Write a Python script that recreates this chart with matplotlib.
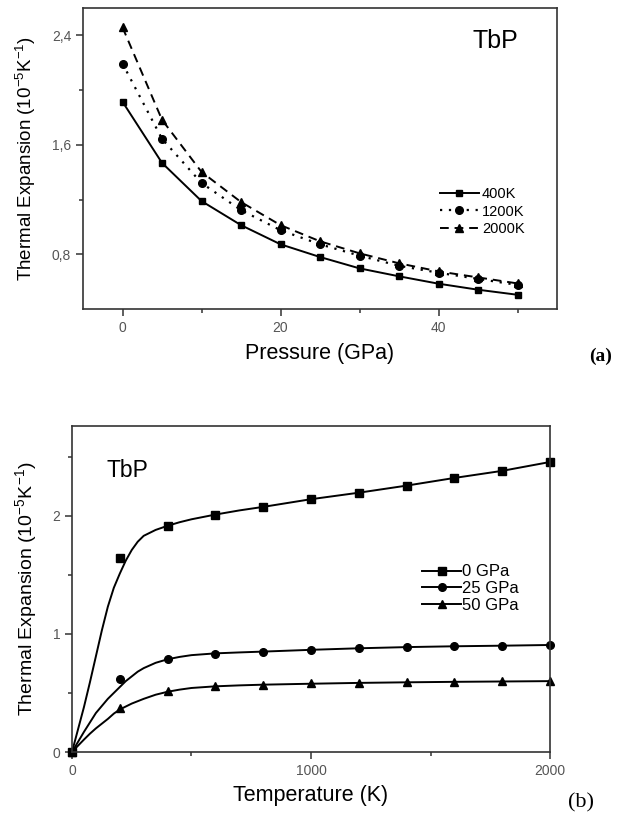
import matplotlib.pyplot as plt
from matplotlib.ticker import FixedLocator

plt.rcParams['font.family'] = ['Liberation Sans', 'DejaVu Sans']

# (a) thermal expansion vs pressure
pressure = [0, 5, 10, 15, 20, 25, 30, 35, 40, 45, 50]
alpha_400 = [1.915, 1.468, 1.189, 1.013, 0.873, 0.780, 0.697, 0.639, 0.585, 0.541, 0.504]
alpha_1200 = [2.194, 1.644, 1.321, 1.123, 0.976, 0.873, 0.790, 0.716, 0.665, 0.620, 0.576]
alpha_2000 = [2.459, 1.783, 1.402, 1.182, 1.013, 0.895, 0.807, 0.734, 0.675, 0.631, 0.587]
labels_a = ['400K', '1200K', '2000K']
yticks_a = [0.8, 1.6, 2.4]
yticklabels_a = ['0,8', '1,6', '2,4']

# (b) thermal expansion vs temperature: computed points and fitted curves
temperature = [0, 200, 400, 600, 800, 1000, 1200, 1400, 1600, 1800, 2000]
alpha_0gpa = [0.0, 1.644, 1.915, 2.008, 2.076, 2.144, 2.195, 2.254, 2.322, 2.381, 2.458]
alpha_25gpa = [0.0, 0.616, 0.786, 0.828, 0.847, 0.864, 0.881, 0.890, 0.895, 0.900, 0.906]
alpha_50gpa = [0.0, 0.370, 0.515, 0.560, 0.570, 0.580, 0.583, 0.590, 0.594, 0.598, 0.600]
t_fit = [0, 25, 50, 75, 100, 125, 150, 175, 200, 225, 250, 275, 300, 350, 400, 450, 500,
         600, 700, 800, 1000, 1200, 1400, 1600, 1800, 2000]
fit_0gpa = [0, 0.19, 0.38, 0.59, 0.81, 1.03, 1.23, 1.39, 1.51, 1.62, 1.71, 1.78, 1.83, 1.88,
            1.915, 1.945, 1.97, 2.01, 2.045, 2.075, 2.14, 2.195, 2.255, 2.32, 2.38, 2.455]
fit_25gpa = [0, 0.085, 0.17, 0.25, 0.33, 0.39, 0.45, 0.50, 0.55, 0.60, 0.64, 0.68, 0.71, 0.755,
             0.785, 0.805, 0.82, 0.835, 0.843, 0.85, 0.865, 0.878, 0.888, 0.895, 0.90, 0.906]
fit_50gpa = [0, 0.053, 0.105, 0.155, 0.20, 0.24, 0.28, 0.325, 0.36, 0.385, 0.41, 0.43, 0.45, 0.485,
             0.51, 0.528, 0.542, 0.556, 0.564, 0.57, 0.578, 0.585, 0.59, 0.594, 0.597, 0.60]
labels_b = ['0 GPa', '25 GPa', '50 GPa']

frame = '#333333'
tickcol = '#555555'


def style_axes(ax):
    for s in ax.spines.values():
        s.set_color(frame)
        s.set_linewidth(1.2)
    ax.tick_params(which='both', direction='out', colors=frame, labelcolor=tickcol,
                   top=False, right=False, labelsize=10)
    ax.tick_params(which='major', length=5, width=1.1)
    ax.tick_params(which='minor', length=3, width=1.1)


fig = plt.figure(figsize=(6.26, 8.19), dpi=100)

# ---- panel (a)
ax1 = fig.add_axes([0.1326, 0.6227, 0.7572, 0.3675])
ax1.plot(pressure, alpha_400, '-', color='black', lw=1.4, marker='s', ms=5, label=labels_a[0])
ax1.plot(pressure, alpha_1200, color='black', lw=1.6, ls=(0, (1, 3)), marker='o', ms=5.5, label=labels_a[1])
ax1.plot(pressure, alpha_2000, color='black', lw=1.4, ls=(0, (4.5, 3)), marker='^', ms=6, label=labels_a[2])
ax1.set_xlim(-5, 55)
ax1.set_ylim(0.4, 2.6)
ax1.set_xticks([0, 20, 40])
ax1.xaxis.set_minor_locator(FixedLocator([10, 30, 50]))
ax1.set_yticks(yticks_a)
ax1.set_yticklabels(yticklabels_a)
ax1.yaxis.set_minor_locator(FixedLocator([1.2, 2.0]))
style_axes(ax1)
ax1.set_xlabel('Pressure (GPa)', fontsize=15.5, labelpad=6)
ax1.set_ylabel(r'Thermal Expansion (10$^{\mathregular{-5}}$K$^{\mathregular{-1}}$)', fontsize=13.5, labelpad=10)
ax1.text(0.871, 0.89, 'TbP', transform=ax1.transAxes, fontsize=18, ha='center', va='center')
ax1.legend(loc='upper left', bbox_to_anchor=(0.74, 0.425), frameon=False, fontsize=10.5,
           handlelength=2.7, handletextpad=0.2, labelspacing=0.25, borderaxespad=0)
fig.text(0.96, 0.565, '(a)', family='Liberation Serif', fontweight='bold', fontsize=14,
         ha='center', va='center')

# ---- panel (b)
ax2 = fig.add_axes([0.115, 0.0818, 0.7636, 0.3981])
markers_b = ['s', 'o', '^']
for pts, fit, mk, lab in zip([alpha_0gpa, alpha_25gpa, alpha_50gpa],
                             [fit_0gpa, fit_25gpa, fit_50gpa], markers_b, labels_b):
    ax2.plot(t_fit, fit, '-', color='black', lw=1.4)
    ax2.plot(temperature, pts, ls='none', color='black', marker=mk, ms=5.5)
    ax2.plot([], [], '-', color='black', lw=1.4, marker=mk, ms=5.5, label=lab)
ax2.set_xlim(0, 2000)
ax2.set_ylim(0, 2.76)
ax2.set_xticks([0, 1000, 2000])
ax2.xaxis.set_minor_locator(FixedLocator([500, 1500]))
ax2.set_yticks([0, 1, 2])
ax2.yaxis.set_minor_locator(FixedLocator([0.5, 1.5, 2.5]))
for a in (ax1, ax2):
    for m in a.lines:
        m.set_clip_on(False)
style_axes(ax2)
ax2.set_xlabel('Temperature (K)', fontsize=15.5, labelpad=5)
ax2.set_ylabel(r'Thermal Expansion (10$^{\mathregular{-5}}$K$^{\mathregular{-1}}$)', fontsize=14, labelpad=9)
ax2.text(0.115, 0.862, 'TbP', transform=ax2.transAxes, fontsize=16.5, ha='center', va='center')
ax2.legend(loc='upper left', bbox_to_anchor=(0.719, 0.596), frameon=False, fontsize=12,
           handlelength=2.3, handletextpad=0.1, labelspacing=0.1, borderaxespad=0)
fig.text(0.928, 0.02, '(b)', family='Liberation Serif', fontsize=16, ha='center', va='center')

fig.savefig('out.png', dpi=100)
